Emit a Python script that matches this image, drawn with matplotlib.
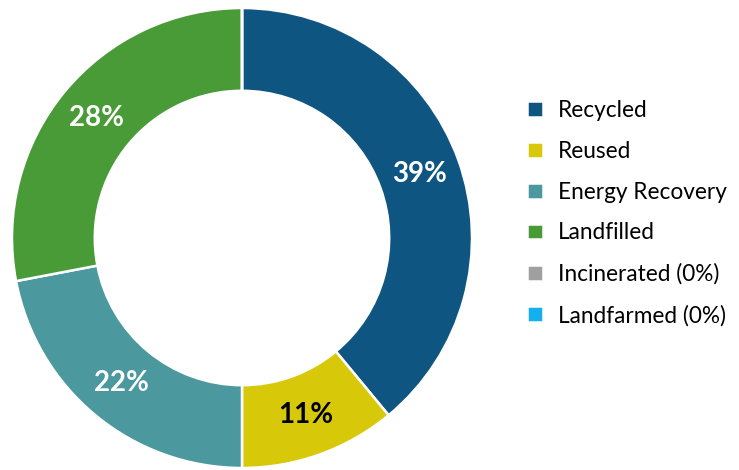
import matplotlib.pyplot as plt

# waste disposition shares (%)
categories = ['Recycled', 'Reused', 'Energy Recovery', 'Landfilled',
              'Incinerated (0%)', 'Landfarmed (0%)']
shares = [39, 11, 22, 28, 0, 0]
colors = ['#0f5582', '#d8c80a', '#4b989e', '#489b37', '#a0a0a0', '#14b0ee']
label_colors = ['white', 'black', 'white', 'white', 'white', 'white']

plt.rcParams['font.family'] = ['Lato', 'DejaVu Sans']

fig = plt.figure(figsize=(7.39, 4.70), dpi=100)
ax = fig.add_axes([12 / 739, 2 / 470, 460 / 739, 460 / 470])

wedges, texts, autotexts = ax.pie(
    shares, colors=colors, startangle=90, counterclock=False, radius=1,
    wedgeprops=dict(width=0.36, edgecolor='white', linewidth=1.8),
    autopct=lambda p: f'{p:.0f}%' if p > 0 else '', pctdistance=0.82,
)
for t, c in zip(autotexts, label_colors):
    t.set_color(c)
    t.set_fontsize(20)
    t.set_fontweight('bold')

ax.set_xlim(-1, 1)
ax.set_ylim(-1, 1)
ax.set_aspect('equal')

fig.legend(wedges, categories, loc='center left',
           bbox_to_anchor=(527 / 739, (470 - 213) / 470),
           frameon=False, fontsize=16.3, borderpad=0, borderaxespad=0,
           handlelength=0.7, handleheight=0.7, handletextpad=0.65,
           labelspacing=0.88)

fig.savefig('out.png', dpi=100)
